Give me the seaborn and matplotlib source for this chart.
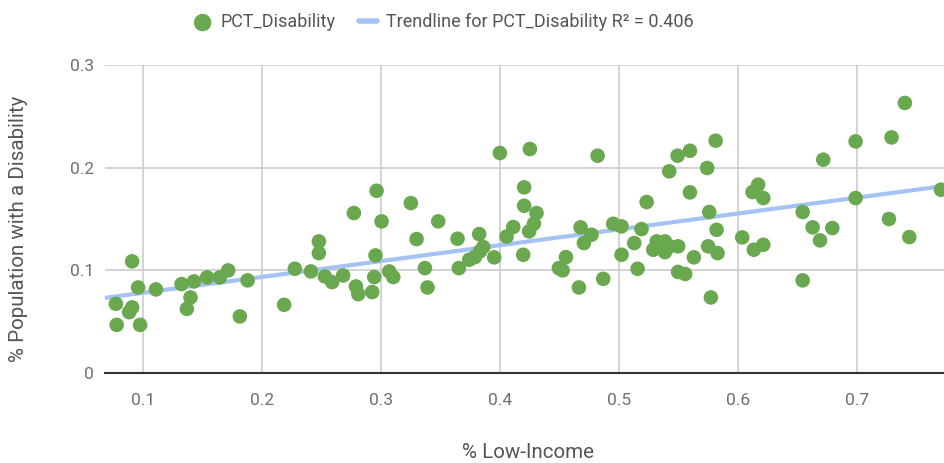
import numpy as np
import pandas as pd
import matplotlib
matplotlib.use("Agg")
import matplotlib.pyplot as plt
import seaborn as sns

# Values
pct_low_income = [
    0.0773, 0.0910, 0.0960, 0.0885, 0.0910, 0.0780, 0.0977, 0.1110,
    0.1325, 0.1430, 0.1400, 0.1370, 0.1540, 0.1647, 0.1717, 0.1880,
    0.1815, 0.2187, 0.2277, 0.2412, 0.2529, 0.2590, 0.2683, 0.2790,
    0.2810, 0.2927, 0.2944, 0.2955, 0.3006, 0.2773, 0.2964, 0.3070,
    0.3104, 0.2479, 0.2479, 0.3252, 0.3300, 0.3370, 0.3392, 0.3482,
    0.3644, 0.3655, 0.3742, 0.3790, 0.3832, 0.3860, 0.3826, 0.3952,
    0.4000, 0.4056, 0.4112, 0.4196, 0.4204, 0.4204, 0.4252, 0.4246,
    0.4286, 0.4308, 0.4496, 0.4527, 0.4555, 0.4664, 0.4678, 0.4706,
    0.4770, 0.4821, 0.4868, 0.4952, 0.5022, 0.5022, 0.5129, 0.5157,
    0.5190, 0.5233, 0.5289, 0.5317, 0.5387, 0.5387, 0.5429, 0.5423,
    0.5493, 0.5497, 0.5557, 0.5498, 0.5597, 0.5597, 0.5630, 0.5742,
    0.5759, 0.5750, 0.5829, 0.5821, 0.5813, 0.5773, 0.6036, 0.6123,
    0.6170, 0.6213, 0.6134, 0.6213, 0.6544, 0.6544, 0.6628, 0.6690,
    0.6793, 0.6717, 0.6989, 0.6989, 0.7269, 0.7291, 0.7403, 0.7440,
    0.7706,
]
pct_disability = [
    0.0675, 0.1088, 0.0834, 0.0594, 0.0640, 0.0470, 0.0470, 0.0815,
    0.0867, 0.0893, 0.0737, 0.0626, 0.0932, 0.0932, 0.1000, 0.0903,
    0.0552, 0.0665, 0.1016, 0.0990, 0.0941, 0.0886, 0.0951, 0.0844,
    0.0769, 0.0789, 0.0935, 0.1146, 0.1477, 0.1558, 0.1775, 0.0990,
    0.0935, 0.1282, 0.1168, 0.1655, 0.1305, 0.1022, 0.0834, 0.1477,
    0.1308, 0.1022, 0.1103, 0.1129, 0.1185, 0.1227, 0.1353, 0.1127,
    0.2142, 0.1329, 0.1422, 0.1152, 0.1808, 0.1629, 0.2181, 0.1380,
    0.1454, 0.1558, 0.1022, 0.1000, 0.1129, 0.0834, 0.1419, 0.1266,
    0.1347, 0.2116, 0.0918, 0.1454, 0.1428, 0.1152, 0.1266, 0.1016,
    0.1402, 0.1665, 0.1201, 0.1282, 0.1282, 0.1178, 0.1234, 0.1964,
    0.2116, 0.0985, 0.0965, 0.1234, 0.2164, 0.1759, 0.1127, 0.1996,
    0.1568, 0.1234, 0.1168, 0.1395, 0.2262, 0.0737, 0.1321, 0.1762,
    0.1834, 0.1704, 0.1201, 0.1249, 0.1568, 0.0903, 0.1419, 0.1292,
    0.1412, 0.2077, 0.2255, 0.1704, 0.1500, 0.2294, 0.2629, 0.1324,
    0.1785,
]
x_ticks = [0.1, 0.2, 0.3, 0.4, 0.5, 0.6, 0.7]
y_ticks = [0, 0.1, 0.2, 0.3]
y_tick_labels = ["0", "0.1", "0.2", "0.3"]
r2_label = "0.406"

df = pd.DataFrame({"low_income": pct_low_income, "disability": pct_disability})

sns.set_style("white")
plt.rcParams["font.family"] = ["Roboto", "DejaVu Sans"]

tick_color = "#6f6f6f"
label_color = "#555555"
point_color = "#6aa84f"
trend_color = "#a4c2f4"

fig = plt.figure(figsize=(9.45, 4.63), dpi=100)
ax = fig.add_axes([0.111, 0.194, 0.889, 0.666])

xmin, xmax = 0.0681, 0.774

# trendline (least squares fit over the points)
slope, intercept = np.polyfit(df["low_income"], df["disability"], 1)
xs = np.array([xmin, xmax])
sns.lineplot(x=xs, y=slope * xs + intercept, ax=ax, color=trend_color,
             linewidth=3, zorder=2,
             label=f"Trendline for PCT_Disability R\u00b2 = {r2_label}")

sns.scatterplot(data=df, x="low_income", y="disability", ax=ax,
                color=point_color, s=110, edgecolor="none", zorder=3,
                label="PCT_Disability")

ax.set_xlim(xmin, xmax)
ax.set_ylim(0, 0.3)
ax.set_xticks(x_ticks)
ax.set_xticklabels([f"{t:g}" for t in x_ticks])
ax.set_yticks(y_ticks)
ax.set_yticklabels(y_tick_labels)
ax.tick_params(axis="both", length=0, labelsize=12.5, colors=tick_color)
ax.tick_params(axis="x", pad=14)
ax.tick_params(axis="y", pad=8)

ax.grid(True, color="#cccccc", linewidth=1.2, zorder=0)
ax.set_axisbelow(True)
for side in ["top", "right", "left"]:
    ax.spines[side].set_visible(False)
ax.spines["bottom"].set_color("#333333")
ax.spines["bottom"].set_linewidth(1.5)
ax.spines["bottom"].set_zorder(1)

ax.set_xlabel("% Low-Income", fontsize=14.8, color=label_color)
ax.xaxis.set_label_coords(0.504, -0.228)
ax.set_ylabel("% Population with a Disability", fontsize=14.8,
              color=label_color)
ax.yaxis.set_label_coords(-0.092, 0.468)

# legend on top, scatter first
handles, labels = ax.get_legend_handles_labels()
order = [1, 0]
leg = ax.legend([handles[i] for i in order], [labels[i] for i in order],
                loc="center", bbox_to_anchor=(0.403, 1.138), ncol=2,
                frameon=False, fontsize=13, handlelength=1.0,
                columnspacing=1.27, handletextpad=0.5, markerscale=1.2)
for t in leg.get_texts():
    t.set_color(label_color)
for line in leg.get_lines():
    line.set_linewidth(4)

fig.savefig("out.png", dpi=100)
